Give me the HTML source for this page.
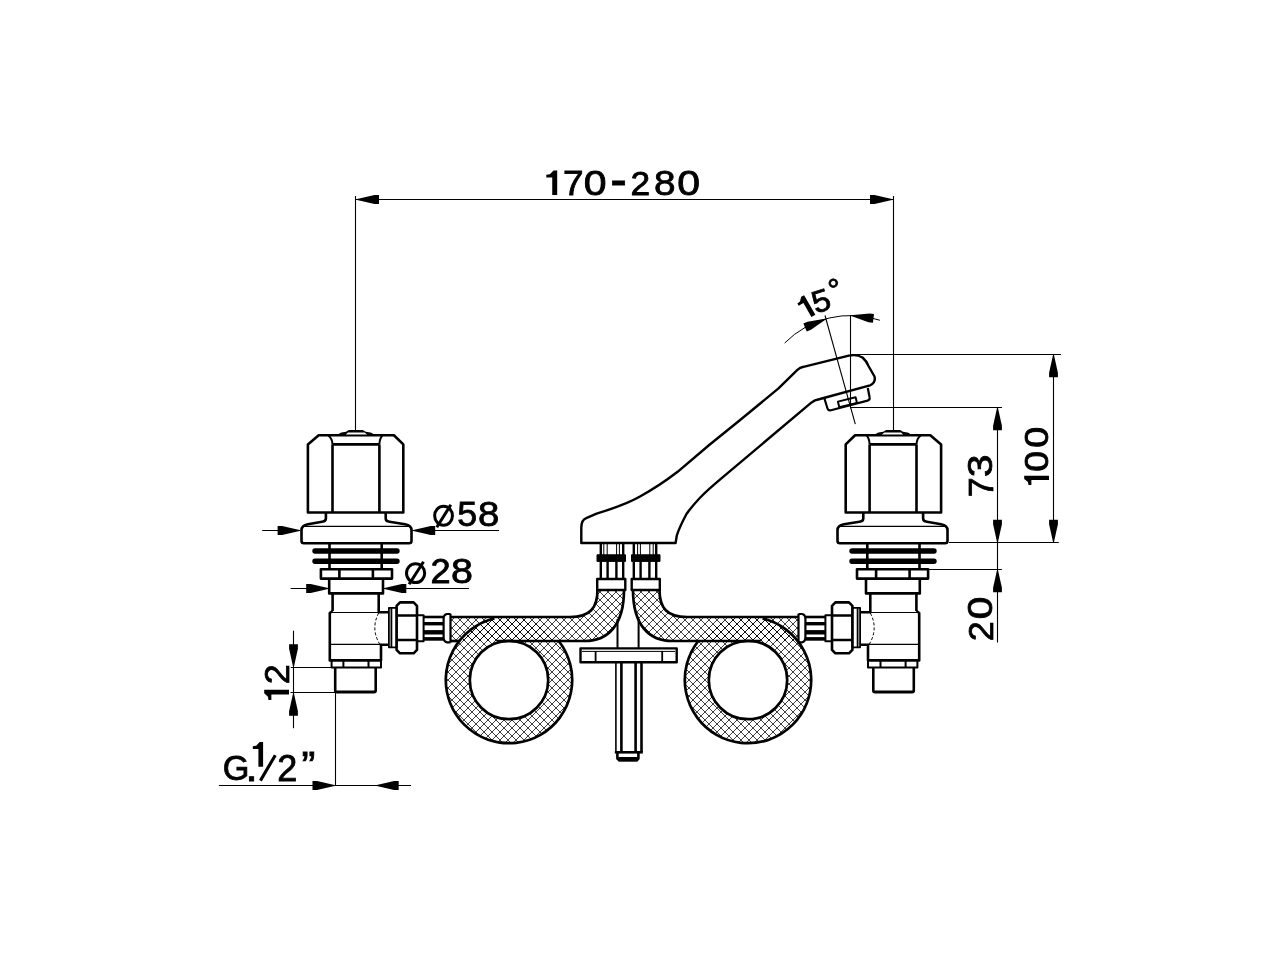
<!DOCTYPE html>
<html><head><meta charset="utf-8"><style>
html,body{margin:0;padding:0;background:#fff;width:1280px;height:960px;overflow:hidden}
svg{display:block;will-change:transform}
text{font-family:"Liberation Sans",sans-serif;fill:#000;stroke:#000;stroke-width:0.8px}
</style></head><body>
<svg width="1280" height="960" viewBox="0 0 1280 960">
<defs>
<pattern id="hatch" patternUnits="userSpaceOnUse" width="8" height="8">
<path d="M0,0 L8,8 M8,0 L0,8 M-1,7 L1,9 M7,-1 L9,1 M-1,1 L1,-1 M7,9 L9,7" stroke="#000" stroke-width="0.75" fill="none"/>
</pattern>
</defs>
<rect width="1280" height="960" fill="#fff"/>
<g fill="none" stroke="#000" stroke-linejoin="round">
<line x1="355.50" y1="196.00" x2="355.50" y2="430.50" stroke-width="1.10"/>
<line x1="893.50" y1="196.00" x2="893.50" y2="430.50" stroke-width="1.10"/>
<line x1="355.50" y1="199.50" x2="893.50" y2="199.50" stroke-width="1.10"/>
<polygon points="356.00,199.20 374.50,195.10 379.00,195.10 379.00,203.90 374.50,203.90 356.00,199.80" fill="#000" stroke="none"/>
<polygon points="893.00,199.80 874.50,203.90 870.00,203.90 870.00,195.10 874.50,195.10 893.00,199.20" fill="#000" stroke="none"/>
<g id="valveL"><path d="M318.7,435.2 H393.9 L403.3,444.4 V512.5 H307.9 V444.4 Z" stroke-width="2.60" /><path d="M332.5,444.4 H379.4 M332.5,444.4 V512.5 M379.4,444.4 V512.5" stroke-width="2.60" /><path d="M328.2,435.2 Q332.3,438.5 332.5,444.4 M382.6,435.2 Q379.6,438.5 379.4,444.4" stroke-width="2.00" /><path d="M338.6,435.5 L339.5,433.3 L341.5,432.6 L346,431.8 L348.8,430 H362.8 L365.8,431.8 L370.5,432.6 L372.5,433.3 L373.3,435.5 Z" fill="#000" stroke="none"/><path d="M345.8,434.6 L348,432.4 H364.5 L367.2,434.6 Z" fill="#fff" stroke="none"/><path d="M325.9,512.5 V518.6 Q325.9,521.6 322.1,521.8 L307.9,524.2 Q301.5,525.5 301.5,530 V541 Q301.5,543.2 304,543.2 H409 Q411.5,543.2 411.5,541 V530 Q411.5,525.5 405.1,524.2 L389.5,521.8 Q385.7,521.6 385.7,518.6 V512.5" stroke-width="2.60" /><path d="M303.5,526.4 H409.5" stroke-width="1.20" /><path d="M329.5,543.2 V569 M381.7,543.2 V569" stroke-width="2.60" /><path d="M315,551 H397 M315,561.3 H397" stroke-width="5.40" stroke-linecap="round"/><path d="M320.9,569.2 H392 V578.6 H320.9 Z M339.4,569.2 V578.6 M372.9,569.2 V578.6" stroke-width="2.60" /><path d="M329.2,578.6 V593.4 H383 V578.6" stroke-width="2.60" /><path d="M332.6,593.4 V611 M378.7,593.4 V612.3 H388.9" stroke-width="2.60" /><path d="M332.6,611 L329.8,613 V660.4 H381 V644.8 H388.9" stroke-width="2.60" /><path d="M331,612.5 H378.7 M331,644.4 H381" stroke-width="1.10" /><path d="M378.7,613 Q370.5,628.5 379.6,644" stroke-width="1.00" stroke-dasharray="3,2"/><path d="M331.6,660.4 V667.6 H381 V660.4 M343.4,660.4 V667.6 M368.5,660.4 V667.6" stroke-width="2.00" /><path d="M335.2,667.6 V690.5 Q335.2,692.2 337,692.2 H374 Q375.7,692.2 375.7,690.5 V667.6" stroke-width="2.60" /><path d="M336,691.6 H375" stroke-width="2.00" /><path d="M388.9,607.8 H396.6 V647.3 H388.9 Z M391.4,608 V647" stroke-width="1.80" /><path d="M400,602.4 H413.6 L417,605.8 V649.9 L413.6,653.3 H400 L396.6,649.9 V605.8 Z" stroke-width="2.60" /><path d="M396.6,615.5 H417 M396.6,640 H417" stroke-width="2.60" /><path d="M417,615.2 H423.6 V641.2 H417" stroke-width="2.00" /><path d="M423.6,617.0 H443.4" stroke-width="2.60" /><path d="M423.6,623.7 H443.4" stroke-width="3.40" /><path d="M423.6,632.3 H443.4" stroke-width="4.40" /><path d="M423.6,638.9 H443.4" stroke-width="3.60" /><path d="M450.5,613.7 V642.5 M450.5,614 H447 Q443.6,614.5 443.6,619 V637 Q443.6,642 447,642.3 H450.5" stroke-width="2.20" /></g>
<g transform="matrix(-1,0,0,1,1249,0)"><path d="M318.7,435.2 H393.9 L403.3,444.4 V512.5 H307.9 V444.4 Z" stroke-width="2.60" /><path d="M332.5,444.4 H379.4 M332.5,444.4 V512.5 M379.4,444.4 V512.5" stroke-width="2.60" /><path d="M328.2,435.2 Q332.3,438.5 332.5,444.4 M382.6,435.2 Q379.6,438.5 379.4,444.4" stroke-width="2.00" /><path d="M338.6,435.5 L339.5,433.3 L341.5,432.6 L346,431.8 L348.8,430 H362.8 L365.8,431.8 L370.5,432.6 L372.5,433.3 L373.3,435.5 Z" fill="#000" stroke="none"/><path d="M345.8,434.6 L348,432.4 H364.5 L367.2,434.6 Z" fill="#fff" stroke="none"/><path d="M325.9,512.5 V518.6 Q325.9,521.6 322.1,521.8 L307.9,524.2 Q301.5,525.5 301.5,530 V541 Q301.5,543.2 304,543.2 H409 Q411.5,543.2 411.5,541 V530 Q411.5,525.5 405.1,524.2 L389.5,521.8 Q385.7,521.6 385.7,518.6 V512.5" stroke-width="2.60" /><path d="M303.5,526.4 H409.5" stroke-width="1.20" /><path d="M329.5,543.2 V569 M381.7,543.2 V569" stroke-width="2.60" /><path d="M315,551 H397 M315,561.3 H397" stroke-width="5.40" stroke-linecap="round"/><path d="M320.9,569.2 H392 V578.6 H320.9 Z M339.4,569.2 V578.6 M372.9,569.2 V578.6" stroke-width="2.60" /><path d="M329.2,578.6 V593.4 H383 V578.6" stroke-width="2.60" /><path d="M332.6,593.4 V611 M378.7,593.4 V612.3 H388.9" stroke-width="2.60" /><path d="M332.6,611 L329.8,613 V660.4 H381 V644.8 H388.9" stroke-width="2.60" /><path d="M331,612.5 H378.7 M331,644.4 H381" stroke-width="1.10" /><path d="M378.7,613 Q370.5,628.5 379.6,644" stroke-width="1.00" stroke-dasharray="3,2"/><path d="M331.6,660.4 V667.6 H381 V660.4 M343.4,660.4 V667.6 M368.5,660.4 V667.6" stroke-width="2.00" /><path d="M335.2,667.6 V690.5 Q335.2,692.2 337,692.2 H374 Q375.7,692.2 375.7,690.5 V667.6" stroke-width="2.60" /><path d="M336,691.6 H375" stroke-width="2.00" /><path d="M388.9,607.8 H396.6 V647.3 H388.9 Z M391.4,608 V647" stroke-width="1.80" /><path d="M400,602.4 H413.6 L417,605.8 V649.9 L413.6,653.3 H400 L396.6,649.9 V605.8 Z" stroke-width="2.60" /><path d="M396.6,615.5 H417 M396.6,640 H417" stroke-width="2.60" /><path d="M417,615.2 H423.6 V641.2 H417" stroke-width="2.00" /><path d="M423.6,617.0 H443.4" stroke-width="2.60" /><path d="M423.6,623.7 H443.4" stroke-width="3.40" /><path d="M423.6,632.3 H443.4" stroke-width="4.40" /><path d="M423.6,638.9 H443.4" stroke-width="3.60" /><path d="M450.5,613.7 V642.5 M450.5,614 H447 Q443.6,614.5 443.6,619 V637 Q443.6,642 447,642.3 H450.5" stroke-width="2.20" /></g>
<g><path d="M450.50,617 H570 C590,617 597.5,608 597.5,590 H624 C624,625 608,641 585,641 H450.50 Z" fill="url(#hatch)" stroke="none"/><path d="M445.80,680.00 A63.20,63.20 0 1 0 572.20,680.00 A63.20,63.20 0 1 0 445.80,680.00 Z M469.80,680.00 A39.20,39.20 0 1 1 548.20,680.00 A39.20,39.20 0 1 1 469.80,680.00 Z" fill="url(#hatch)" fill-rule="evenodd" stroke="none"/><path d="M450.50,617 H570 C590,617 597.5,608 597.5,590" stroke-width="2.7"/><path d="M497,641 H585 C608,641 624,625 624,590" stroke-width="2.7"/><path d="M450.50,641 H459" stroke-width="2.7"/><path d="M494.44,618.50 A63.20,63.20 0 1 0 558.73,641.00" stroke-width="2.7"/><circle cx="509.00" cy="680.00" r="39.20" stroke-width="2.7"/></g>
<g transform="matrix(-1,0,0,1,1257.00,0)"><path d="M458.50,617 H570 C590,617 597.5,608 597.5,590 H624 C624,625 608,641 585,641 H458.50 Z" fill="url(#hatch)" stroke="none"/><path d="M445.80,680.00 A63.20,63.20 0 1 0 572.20,680.00 A63.20,63.20 0 1 0 445.80,680.00 Z M469.80,680.00 A39.20,39.20 0 1 1 548.20,680.00 A39.20,39.20 0 1 1 469.80,680.00 Z" fill="url(#hatch)" fill-rule="evenodd" stroke="none"/><path d="M458.50,617 H570 C590,617 597.5,608 597.5,590" stroke-width="2.7"/><path d="M497,641 H585 C608,641 624,625 624,590" stroke-width="2.7"/><path d="M458.50,641 H459" stroke-width="2.7"/><path d="M494.44,618.50 A63.20,63.20 0 1 0 558.73,641.00" stroke-width="2.7"/><circle cx="509.00" cy="680.00" r="39.20" stroke-width="2.7"/></g>
<g><path d="M600.8,543 V555 M623.2,543 V555" stroke-width="2.40" /><path d="M603.8,543 V555 M607.2,543 V555 M616.6,543 V555 M619.4,543 V555" stroke-width="1.00" /><path d="M597,554.8 H625.5 V561.4 H597 Z" stroke-width="1.00" fill="#000"/><path d="M600.8,561.4 V579 M607.6,561.4 V579 M616.4,561.4 V579 M623.2,561.4 V579" stroke-width="2.40" /><path d="M597.2,579 H625.3 V590 H597.2 Z" stroke-width="2.40" /></g>
<g transform="matrix(-1,0,0,1,1257,0)"><path d="M600.8,543 V555 M623.2,543 V555" stroke-width="2.40" /><path d="M603.8,543 V555 M607.2,543 V555 M616.6,543 V555 M619.4,543 V555" stroke-width="1.00" /><path d="M597,554.8 H625.5 V561.4 H597 Z" stroke-width="1.00" fill="#000"/><path d="M600.8,561.4 V579 M607.6,561.4 V579 M616.4,561.4 V579 M623.2,561.4 V579" stroke-width="2.40" /><path d="M597.2,579 H625.3 V590 H597.2 Z" stroke-width="2.40" /></g>
<path d="M617.5,619 V648.2 M638.6,619 V648.2" stroke-width="2.00" />
<path d="M580.5,648.4 H676.7 V662.3 H580.5 Z" stroke-width="2.40" />
<path d="M582,651.4 H675" stroke-width="1.00" />
<path d="M595.6,651 V662 M662.2,651 V662" stroke-width="1.80" />
<path d="M615.9,662.3 V752.3" stroke-width="1.60" />
<path d="M641.5,662.3 V752.3" stroke-width="2.60" />
<path d="M621.4,662.3 V752.3 M635.6,662.3 V752.3" stroke-width="2.60" />
<path d="M614.8,752.3 H642.8" stroke-width="2.60" />
<path d="M617.4,752.3 V758.5 L619,760 H637 L638.4,758.5 V752.3" stroke-width="2.60" />
<path d="M618.5,759.3 H637.5" stroke-width="4.60" />
<path d="M581.3,543 V527.5 Q581.5,520 586.2,518.2 L596.6,513.7 C610,509.5 628,503.5 640,496.5 C650,491 665,481.5 677.6,471.8 L709.2,445 L738.9,421 L778.5,388.4 L797.4,369.8 Q800,367.5 803.5,366.8 L848.8,355.6 Q857,354 862.5,357.5 Q866.5,361 868.5,366 L874.5,376.5 Q876,383 870,385.3 L820,399 Q814.5,399.8 811,402.8 L721.1,478.7 Q707,490.5 699.3,498.5 Q691,507.5 686.5,514 Q679.5,527 676.8,535.5 L675.6,543 Z" stroke-width="2.40" fill="#fff"/>
<path d="M824.2,397.8 L827.5,408.5 Q828.3,411 831,410.3 L867.5,400.6 Q870.2,399.8 869.6,397.2 L867.8,388" stroke-width="2.20" />
<path d="M837.9,401.6 L839.3,407.2 L857,402.9 L855.6,397.3 Z" stroke-width="2.00" />
<line x1="262.20" y1="530.50" x2="300.40" y2="530.50" stroke-width="1.10"/>
<polygon points="300.60,530.80 282.10,534.90 277.60,534.90 277.60,526.10 282.10,526.10 300.60,530.20" fill="#000" stroke="none"/>
<line x1="412.40" y1="530.50" x2="499.00" y2="530.50" stroke-width="1.10"/>
<polygon points="412.20,530.20 430.70,526.10 435.20,526.10 435.20,534.90 430.70,534.90 412.20,530.80" fill="#000" stroke="none"/>
<line x1="290.60" y1="588.50" x2="329.00" y2="588.50" stroke-width="1.10"/>
<polygon points="329.20,588.80 310.70,592.90 306.20,592.90 306.20,584.10 310.70,584.10 329.20,588.20" fill="#000" stroke="none"/>
<line x1="383.50" y1="588.50" x2="469.00" y2="588.50" stroke-width="1.10"/>
<polygon points="383.30,588.20 401.80,584.10 406.30,584.10 406.30,592.90 401.80,592.90 383.30,588.80" fill="#000" stroke="none"/>
<line x1="293.50" y1="630.70" x2="293.50" y2="728.20" stroke-width="1.10"/>
<polygon points="293.20,667.20 289.10,648.70 289.10,644.20 297.90,644.20 297.90,648.70 293.80,667.20" fill="#000" stroke="none"/>
<polygon points="293.80,692.80 297.90,711.30 297.90,715.80 289.10,715.80 289.10,711.30 293.20,692.80" fill="#000" stroke="none"/>
<line x1="290.80" y1="667.50" x2="331.50" y2="667.50" stroke-width="1.10"/>
<line x1="290.50" y1="692.50" x2="335.50" y2="692.50" stroke-width="1.10"/>
<line x1="335.50" y1="692.50" x2="335.50" y2="785.50" stroke-width="1.10"/>
<line x1="218.90" y1="785.50" x2="411.00" y2="785.50" stroke-width="1.10"/>
<polygon points="335.50,785.80 317.00,789.90 312.50,789.90 312.50,781.10 317.00,781.10 335.50,785.20" fill="#000" stroke="none"/>
<polygon points="375.70,785.20 394.20,781.10 398.70,781.10 398.70,789.90 394.20,789.90 375.70,785.80" fill="#000" stroke="none"/>
<line x1="851.00" y1="354.50" x2="1061.00" y2="354.50" stroke-width="1.10"/>
<line x1="850.50" y1="407.50" x2="1002.00" y2="407.50" stroke-width="1.10"/>
<line x1="949.00" y1="542.50" x2="1058.80" y2="542.50" stroke-width="1.10"/>
<line x1="927.70" y1="569.50" x2="1001.80" y2="569.50" stroke-width="1.10"/>
<line x1="1053.50" y1="354.50" x2="1053.50" y2="542.50" stroke-width="1.10"/>
<polygon points="1053.80,354.30 1057.90,372.80 1057.90,377.30 1049.10,377.30 1049.10,372.80 1053.20,354.30" fill="#000" stroke="none"/>
<polygon points="1053.20,542.80 1049.10,524.30 1049.10,519.80 1057.90,519.80 1057.90,524.30 1053.80,542.80" fill="#000" stroke="none"/>
<line x1="997.50" y1="407.50" x2="997.50" y2="642.50" stroke-width="1.10"/>
<polygon points="997.80,407.30 1001.90,425.80 1001.90,430.30 993.10,430.30 993.10,425.80 997.20,407.30" fill="#000" stroke="none"/>
<polygon points="997.20,542.80 993.10,524.30 993.10,519.80 1001.90,519.80 1001.90,524.30 997.80,542.80" fill="#000" stroke="none"/>
<polygon points="997.80,569.30 1001.90,587.80 1001.90,592.30 993.10,592.30 993.10,587.80 997.20,569.30" fill="#000" stroke="none"/>
<path d="M784.70,343.00 A92.7,92.7 0 0 1 879.91,320.26" stroke-width="1.0"/>
<line x1="850.50" y1="315.50" x2="850.50" y2="408.50" stroke-width="1.10"/>
<line x1="825.00" y1="315.50" x2="855.30" y2="424.20" stroke-width="1.10"/>
<polygon points="826.45,319.01 810.89,329.82 806.73,331.52 803.39,323.38 807.55,321.67 826.23,318.45" fill="#000" stroke="none"/>
<polygon points="850.64,315.20 869.50,313.42 873.97,313.98 872.88,322.71 868.41,322.16 850.56,315.80" fill="#000" stroke="none"/>
</g>
<polygon points="553.54,170.50 557.20,170.50 557.20,194.90 552.24,194.90 552.24,177.55 546.30,177.55 546.30,174.70 549.86,174.18" fill="#000"/>
<text font-size="34.303" transform="translate(573.30,182.70) rotate(0) scale(1.0774,1) translate(-9.556,11.800)">7</text>
<text font-size="34.463" transform="translate(595.10,182.70) rotate(0) scale(1.1897,1) translate(-9.583,11.863)">0</text>
<text font-size="52.480" transform="translate(618.50,182.85) rotate(0) scale(0.9522,1) translate(-8.738,13.940)">-</text>
<text font-size="33.799" transform="translate(640.45,182.70) rotate(0) scale(1.0456,1) translate(-9.399,11.800)">2</text>
<text font-size="34.463" transform="translate(664.70,182.70) rotate(0) scale(1.1254,1) translate(-9.583,11.863)">8</text>
<text font-size="34.463" transform="translate(688.60,182.70) rotate(0) scale(1.1897,1) translate(-9.583,11.863)">0</text>
<ellipse cx="443.55" cy="515.8" rx="8.9" ry="9.5" fill="none" stroke="#000" stroke-width="3.0"/><line x1="436.8" y1="527.3" x2="450.8" y2="504.8" stroke="#000" stroke-width="3"/>
<text font-size="34.396" transform="translate(467.30,514.50) rotate(0) scale(1.0424,1) translate(-9.531,11.664)">5</text>
<text font-size="34.604" transform="translate(488.60,514.25) rotate(0) scale(1.1085,1) translate(-9.623,11.912)">8</text>
<ellipse cx="415.6" cy="573.2" rx="9.1" ry="9.4" fill="none" stroke="#000" stroke-width="3.0"/><line x1="409.1" y1="584.2" x2="423.5" y2="561.7" stroke="#000" stroke-width="3"/>
<text font-size="35.375" transform="translate(440.55,571.05) rotate(0) scale(1.0239,1) translate(-9.837,12.350)">2</text>
<text font-size="35.310" transform="translate(462.05,570.90) rotate(0) scale(1.1165,1) translate(-9.819,12.155)">8</text>
<polygon points="264.20,693.26 264.20,689.80 289.00,689.80 289.00,694.49 271.37,694.49 271.37,700.10 268.47,700.10 267.94,696.73" fill="#000"/>
<text font-size="34.372" transform="translate(276.60,674.30) rotate(-90) scale(1.0473,1) translate(-9.558,12.000)">2</text>
<text font-size="35.875" transform="translate(235.60,767.90) rotate(0) scale(0.9564,1) translate(-13.515,12.350)">G</text>
<text font-size="41.147" transform="translate(251.55,778.40) rotate(0) scale(1.0976,1) translate(-5.716,2.200)">.</text>
<polygon points="259.64,741.90 263.10,741.90 263.10,766.80 258.41,766.80 258.41,749.10 252.80,749.10 252.80,746.18 256.17,745.66" fill="#000"/>
<line x1="260.4" y1="780.6" x2="275.3" y2="755.2" stroke="#000" stroke-width="3.1" stroke-linecap="butt"/>
<text font-size="36.377" transform="translate(287.20,767.90) rotate(0) scale(0.9896,1) translate(-10.116,12.700)">2</text>
<text font-size="40.333" transform="translate(308.50,756.70) rotate(0) scale(1.0308,1) translate(-6.716,23.248)">”</text>
<text font-size="35.175" transform="translate(980.40,487.27) rotate(-90) scale(1.0162,1) translate(-9.799,12.100)">7</text>
<text font-size="34.180" transform="translate(980.40,465.80) rotate(-90) scale(1.1848,1) translate(-9.405,11.766)">3</text>
<polygon points="1024.20,478.89 1024.20,475.80 1049.00,475.80 1049.00,479.99 1031.37,479.99 1031.37,485.00 1028.47,485.00 1027.94,481.99" fill="#000"/>
<text font-size="33.898" transform="translate(1036.60,461.45) rotate(-90) scale(1.1047,1) translate(-9.426,11.669)">0</text>
<text font-size="33.898" transform="translate(1036.60,437.30) rotate(-90) scale(1.1108,1) translate(-9.426,11.669)">0</text>
<text font-size="34.180" transform="translate(980.40,607.85) rotate(-90) scale(1.1935,1) translate(-9.505,11.766)">0</text>
<text font-size="34.658" transform="translate(980.40,631.30) rotate(-90) scale(1.0387,1) translate(-9.638,12.100)">2</text>
<polygon points="801.20,296.84 804.11,295.16 815.36,314.64 811.41,316.92 803.42,303.06 798.70,305.79 797.38,303.51 799.98,301.46" fill="#000"/>
<text font-size="31.000" transform="translate(821.10,301.00) rotate(-18) scale(1.0500,1) translate(-8.590,10.512)">5</text>
<text font-size="31.000" transform="translate(833.40,283.00) rotate(-18) scale(1.0000,1) translate(-6.191,17.332)">°</text>
</svg>
</body></html>
